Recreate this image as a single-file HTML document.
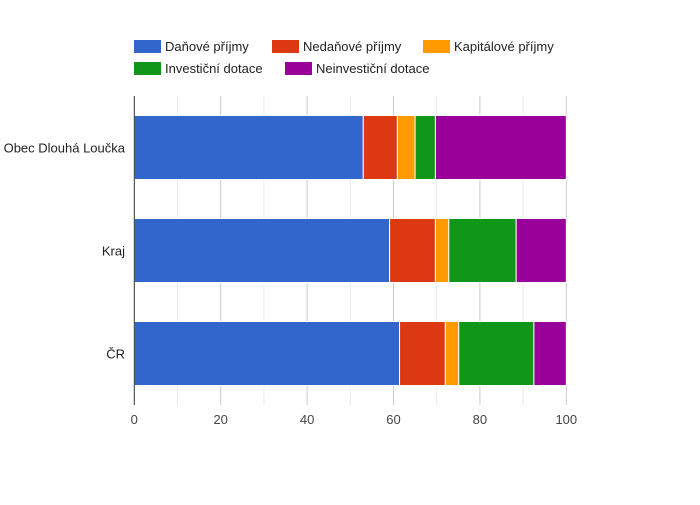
<!DOCTYPE html>
<html><head><meta charset="utf-8"><style>
body{margin:0;background:#fff;font-family:"Liberation Sans",Arial,sans-serif}
</style></head><body>
<svg id="c" width="700" height="500" xmlns="http://www.w3.org/2000/svg"></svg>
<script>
const categories=["Obec Dlouhá Loučka","Kraj","ČR"];
const seriesNames=["Daňové příjmy","Nedaňové příjmy","Kapitálové příjmy","Investiční dotace","Neinvestiční dotace"];
const dan=[53.0,59.1,61.4];
const nedan=[7.9,10.6,10.6];
const kap=[4.1,3.1,3.1];
const inv=[4.7,15.6,17.4];
const neinv=[30.3,11.6,7.5];
const ticks=[0,20,40,60,80,100];
const colors=["#3366cc","#dc3912","#ff9900","#109618","#990099"];
const series=[dan,nedan,kap,inv,neinv];
const svg=document.getElementById('c');const NS="http://www.w3.org/2000/svg";
function mk(t,a,p){const e=document.createElementNS(NS,t);for(const k in a)e.setAttribute(k,a[k]);(p||svg).appendChild(e);return e;}
const x0=134.3,x1=566.3,yTop=96,yBot=405;
const xs=v=>x0+(x1-x0)*v/100;
const bandH=(yBot-yTop)/categories.length,barH=64;
const yc=i=>yTop+bandH*(i+0.5);
for(let v=10;v<=100;v+=10){const g=mk('line',{x1:xs(v),x2:xs(v),y1:yTop,y2:yBot,stroke:v%20?'#ebebeb':'#cccccc','stroke-width':1});

}
categories.forEach((c,i)=>{let acc=0;series.forEach((s,j)=>{const r=mk('rect',{x:xs(acc),y:yc(i)-barH/2,width:xs(acc+s[i])-xs(acc),height:barH,fill:colors[j],stroke:'#fff','stroke-width':1});


acc+=s[i];});
const t=mk('text',{x:125,y:yc(i)+5,'text-anchor':'end','font-size':13,fill:'#222'});t.textContent=c;

});
const ax=mk('line',{x1:x0,x2:x0,y1:yTop,y2:yBot,stroke:'#333','stroke-width':1});


ticks.forEach(v=>{const t=mk('text',{x:xs(v),y:424,'text-anchor':'middle','font-size':13,fill:'#444'});t.textContent=v;

});
const leg=[[134,40],[272,40],[423,40],[134,62],[285,62]];
seriesNames.forEach((n,j)=>{const g=mk('g',{});


mk('rect',{x:leg[j][0],y:leg[j][1],width:27,height:13,fill:colors[j]},g);
const t=mk('text',{x:leg[j][0]+31,y:leg[j][1]+11,'font-size':13,fill:'#222'},g);t.textContent=n;});
</script>
</body></html>
